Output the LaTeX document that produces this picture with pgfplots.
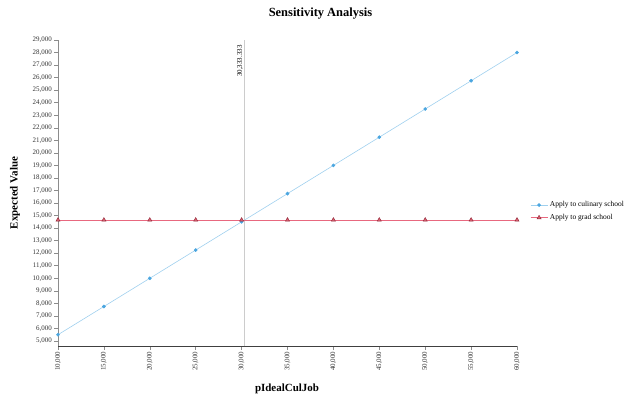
\documentclass[border=0pt]{standalone}
\usepackage{pgfplots}
\pgfplotsset{compat=1.18}
\usepackage{fontspec}
\setmainfont{Liberation Serif}
\definecolor{culline}{HTML}{9FD0EE}
\definecolor{culmark}{HTML}{4BA6E0}
\definecolor{gradline}{HTML}{E8687F}
\definecolor{gradmark}{HTML}{8E2435}
\definecolor{gradfill}{HTML}{D96070}
\begin{document}
\begin{tikzpicture}[x=1bp,y=1bp]
\useasboundingbox (0,0) rectangle (641,394);
\node[font=\bfseries\fontsize{12.5}{14}\selectfont] at (320.5,380) {Sensitivity Analysis};
\node[font=\bfseries\fontsize{11}{12}\selectfont, rotate=90] at (15,201) {Expected Value};
\node[font=\bfseries\fontsize{11}{12}\selectfont] at (287,5) {pIdealCulJob};
\begin{axis}[
  at={(58bp,48bp)}, anchor=south west,
  scale only axis, width=459bp, height=306bp,
  xmin=10000, xmax=60000, ymin=4600, ymax=29000,
  axis lines*=left,
  x axis line style={draw=black!75, line width=0.8pt},
  y axis line style={draw=black!45, line width=0.8pt},
  xtick={10000,15000,...,60000},
  ytick={5000,6000,...,29000},
  scaled ticks=false,
  tick style={draw=black!45, line width=0.5pt},
  major tick length=4bp,
  tick align=outside,
  every tick label/.append style={font=\fontsize{7}{8}\selectfont, text=black!80},
  /pgf/number format/assume math mode=true,
  /pgf/number format/.cd, fixed, 1000 sep={,}, /pgfplots/.cd,
  xticklabel style={rotate=90, anchor=east, inner sep=1.5bp},
  yticklabel style={inner sep=2bp},
  legend style={at={(1.022,0.44)}, anchor=west, draw=none, fill=none,
    font=\fontsize{7.5}{9}\selectfont, row sep=2bp},
  legend cell align=left,
  clip=false,
]
\addplot[draw=black!20, line width=0.5pt, forget plot] coordinates {(30333.333,4600) (30333.333,29000)};
\node[rotate=90, anchor=south east, inner sep=1.5bp, font=\fontsize{7}{8}\selectfont] at (axis cs:30333.333,28700) {30,333.333};
\addplot[color=culline, line width=0.6pt, mark=*, mark size=1.5bp, mark options={draw=culmark, fill=culmark}] coordinates {
(10000,5500) (15000,7750) (20000,10000) (25000,12250) (30000,14500) (35000,16750) (40000,19000) (45000,21250) (50000,23500) (55000,25750) (60000,28000)};
\addlegendentry{Apply to culinary school}
\addplot[color=gradline, line width=0.6pt, mark=triangle*, mark size=2.4bp, mark options={draw=gradmark, fill=gradfill, line width=0.4pt}] coordinates {
(10000,14650) (15000,14650) (20000,14650) (25000,14650) (30000,14650) (35000,14650) (40000,14650) (45000,14650) (50000,14650) (55000,14650) (60000,14650)};
\addlegendentry{Apply to grad school}
\end{axis}
\end{tikzpicture}
\end{document}
